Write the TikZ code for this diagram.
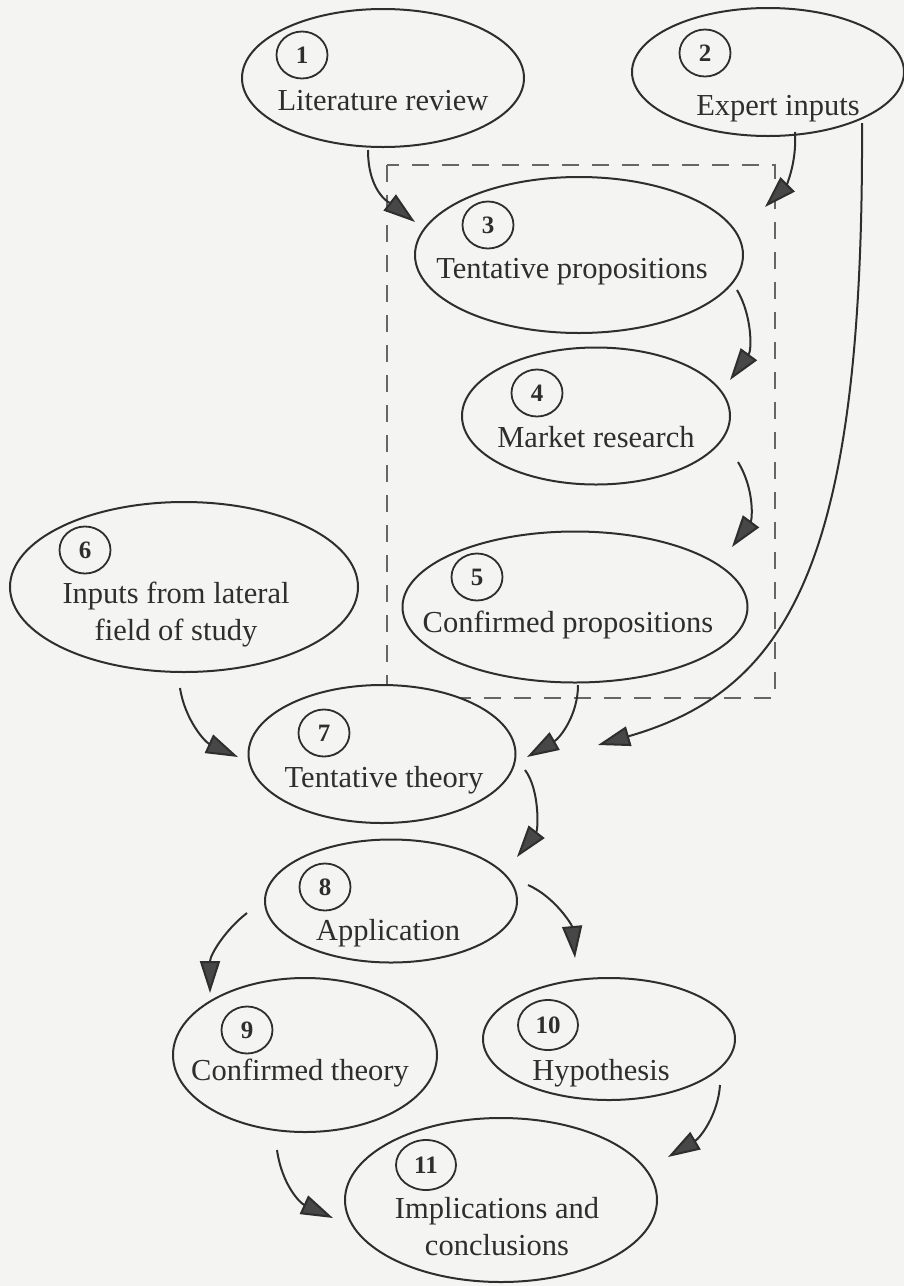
\documentclass[tikz,border=0pt]{standalone}
\usepackage{fontspec}
\setmainfont{Liberation Serif}
\usetikzlibrary{shapes.geometric,arrows.meta}
\definecolor{bg}{HTML}{F4F4F2}
\definecolor{ink}{HTML}{2E2E2E}
\definecolor{headc}{HTML}{474747}
\definecolor{dashc}{HTML}{666666}
\begin{document}
\begin{tikzpicture}[x=1pt,y=-1pt,
  oval/.style={ellipse,draw=ink,line width=2pt,fill=bg,inner sep=0pt},
  num/.style={ellipse,draw=ink,line width=1.8pt,minimum width=51pt,minimum height=47pt,inner sep=0pt,font=\fontsize{25}{25}\selectfont\bfseries,text=ink},
  wnum/.style={num,minimum width=60pt,minimum height=50pt},
  lbl/.style={anchor=base,font=\fontsize{30.5}{37}\selectfont,text=ink,inner sep=0pt},
  flow/.style={draw=ink,line width=2pt,-{Triangle[length=32pt,width=20pt,fill=headc]}},
  groupbox/.style={draw=dashc,line width=1.1pt,dash pattern=on 17pt off 13pt}]
\fill[bg] (0,0) rectangle (904,1286);
\useasboundingbox (0,0) rectangle (904,1286);

% dashed group
\draw[groupbox] (387,165) rectangle (775,698);

% ellipses
\node[oval,minimum width=282pt,minimum height=138pt] (e1) at (383,78) {};
\node[oval,minimum width=272pt,minimum height=128pt] (e2) at (768,72) {};
\node[oval,minimum width=328pt,minimum height=156pt] (e3) at (579,255) {};
\node[oval,minimum width=268pt,minimum height=137pt] (e4) at (596,416) {};
\node[oval,minimum width=345pt,minimum height=151pt] (e5) at (575,607) {};
\node[oval,minimum width=348pt,minimum height=170pt] (e6) at (184,587) {};
\node[oval,minimum width=267pt,minimum height=138pt] (e7) at (382,754) {};
\node[oval,minimum width=252pt,minimum height=123pt] (e8) at (391,901) {};
\node[oval,minimum width=264pt,minimum height=154pt] (e9) at (305,1055) {};
\node[oval,minimum width=252pt,minimum height=122pt] (e10) at (609,1039) {};
\node[oval,minimum width=312pt,minimum height=164pt] (e11) at (501,1200) {};

% numbers
\node[num] (n1) at (302,55) {1};
\node[num] (n2) at (705,53) {2};
\node[num] (n3) at (488,225) {3};
\node[num] (n4) at (537,393) {4};
\node[num] (n5) at (477,577) {5};
\node[num] (n6) at (85,550) {6};
\node[num] (n7) at (324,733) {7};
\node[num] (n8) at (325,887) {8};
\node[num] (n9) at (247,1030) {9};
\node[wnum] (n10) at (548,1025) {10};
\node[wnum] (n11) at (426,1165) {11};

% labels
\node[lbl] (t1) at (383,110) {Literature review};
\node[lbl] (t2) at (778,115) {Expert inputs};
\node[lbl] (t3) at (572,278) {Tentative propositions};
\node[lbl] (t4) at (596,447) {Market research};
\node[lbl] (t5) at (568,632) {Confirmed propositions};
\node[lbl] (t6a) at (176,603) {Inputs from lateral};
\node[lbl] (t6b) at (176,640) {field of study};
\node[lbl] (t7) at (384,787) {Tentative theory};
\node[lbl] (t8) at (388,940) {Application};
\node[lbl] (t9) at (300,1080) {Confirmed theory};
\node[lbl] (t10) at (601,1080) {Hypothesis};
\node[lbl] (t11a) at (497,1218) {Implications and};
\node[lbl] (t11b) at (497,1255) {conclusions};

% connector end points
\coordinate (s13) at (368,150);  \coordinate (h13) at (415,222);
\coordinate (s23) at (795,132);  \coordinate (h23) at (765,207);
\coordinate (s27) at (862,123);  \coordinate (h27) at (598,745);
\coordinate (s34) at (737,290);  \coordinate (h34) at (730,380);
\coordinate (s45) at (738,462);  \coordinate (h45) at (732,547);
\coordinate (s57) at (578,685);  \coordinate (h57) at (527,757);
\coordinate (s67) at (180,688);  \coordinate (h67) at (238,757);
\coordinate (s78) at (525,770);  \coordinate (h78) at (517,857);
\coordinate (s89) at (247,913);  \coordinate (h89) at (210,993);
\coordinate (s810) at (528,885); \coordinate (h810) at (575,958);
\coordinate (s911) at (277,1150); \coordinate (h911) at (333,1218);
\coordinate (s1011) at (720,1085); \coordinate (h1011) at (668,1157);

% connectors
\draw[flow] (s13) .. controls (368,195) and (393,205) .. (h13);
\draw[flow] (s23) .. controls (797,165) and (785,187) .. (h23);
\draw[flow] (s27) .. controls (864,560) and (790,690) .. (h27);
\draw[flow] (s34) .. controls (752,315) and (752,350) .. (h34);
\draw[flow] (s45) .. controls (755,490) and (752,520) .. (h45);
\draw[flow] (s57) .. controls (578,715) and (560,738) .. (h57);
\draw[flow] (s67) .. controls (185,720) and (205,742) .. (h67);
\draw[flow] (s78) .. controls (540,790) and (538,830) .. (h78);
\draw[flow] (s89) .. controls (225,930) and (210,955) .. (h89);
\draw[flow] (s810) .. controls (555,897) and (572,925) .. (h810);
\draw[flow] (s911) .. controls (282,1185) and (300,1203) .. (h911);
\draw[flow] (s1011) .. controls (718,1115) and (700,1138) .. (h1011);
\end{tikzpicture}
\end{document}
